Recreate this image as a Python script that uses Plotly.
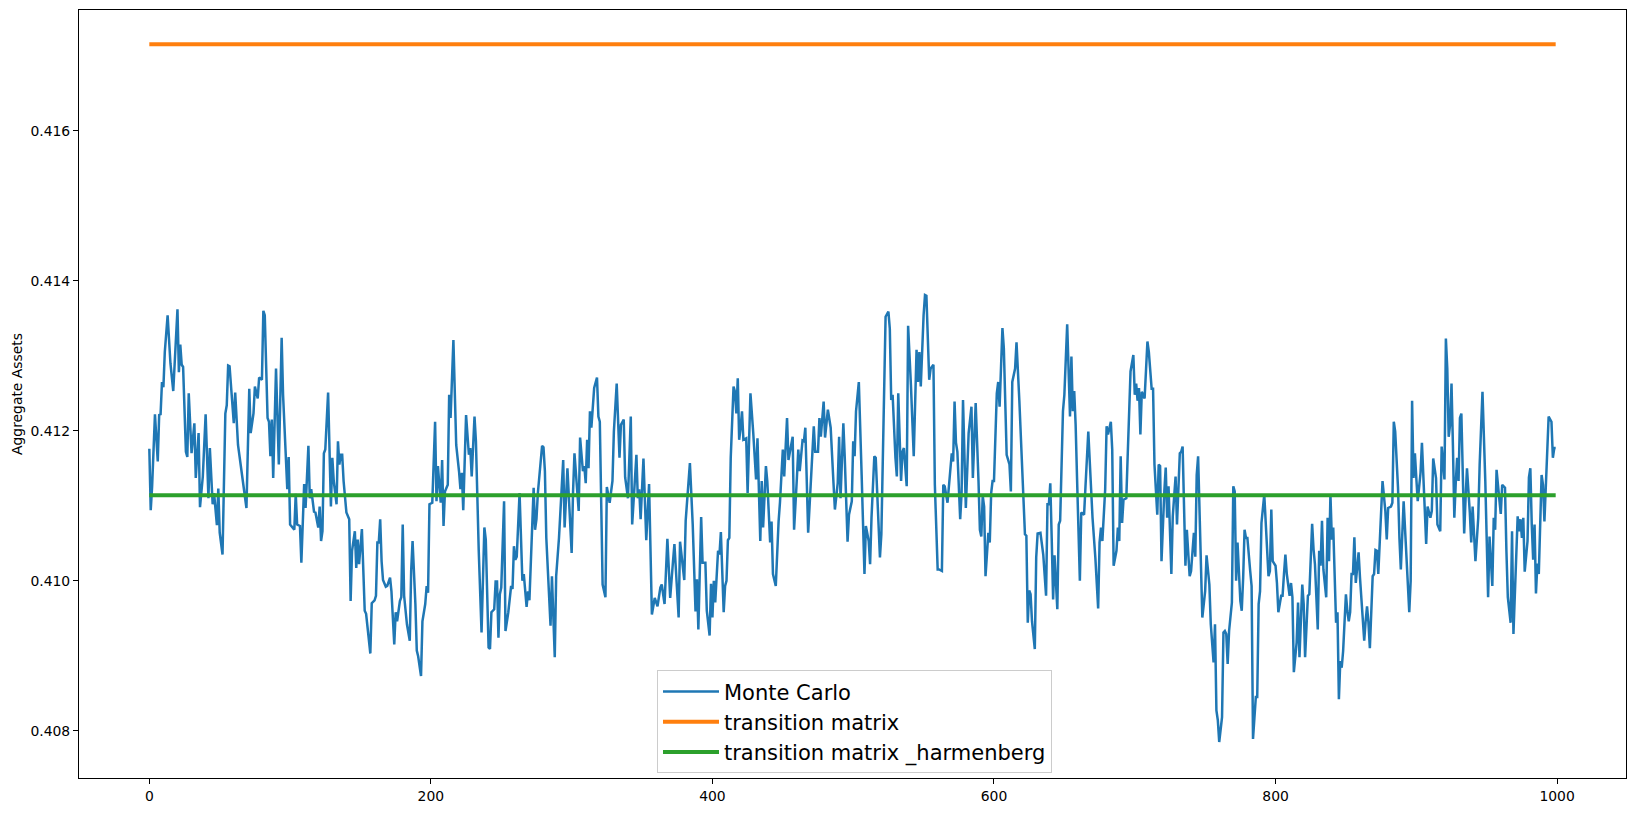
import plotly.graph_objects as go

# Monte Carlo aggregate assets, (period, value) readings
mc_block_0 = [(0,0.41176),(1,0.41094),(2,0.41126),(4,0.41222),(6,0.41159),(7,0.41221),(8,0.41222),(9,0.41265),(10,0.41258),(11,0.41305),(13,0.41354),(15,0.41290),(17,0.41253),(20,0.41362),(21,0.41278),(22,0.41315),(23,0.41288),(24,0.41285),(26,0.41172),(27,0.41165),(28,0.41250),(30,0.41170),(32,0.41210),(33,0.41137),(35,0.41197),(36,0.41098),(38,0.41139),(40,0.41222),(42,0.41110),(43,0.41177),(45,0.41102),(46,0.41117),(48,0.41074),(49,0.41123),(50,0.41064),(52,0.41035),(54,0.41223),(55,0.41234),(56,0.41287),(57,0.41286),(60,0.41210),(61,0.41251),(63,0.41181),(65,0.41155),(69,0.41097),(71,0.41256),(72,0.41197),(74,0.41223),(75,0.41259),(77,0.41243),(78,0.41271),(80,0.41268),(81,0.41360),(82,0.41354),(84,0.41217),(85,0.41212),(86,0.41166),(87,0.41215),(88,0.41137),(90,0.41283),(92,0.41155),(94,0.41324),(95,0.41248),(98,0.41122),(99,0.41165),
(100,0.41075),(103,0.41068),(104,0.41116),(105,0.41075),(107,0.41073),(108,0.41024),(110,0.41129),(111,0.41097),(113,0.41180),(114,0.41110),(115,0.41122),(117,0.41092),(118,0.41091),(120,0.41071),(121,0.41099),(122,0.41053),(123,0.41066),(124,0.41170),(125,0.41175),(127,0.41251),(129,0.41099),(130,0.41164),(131,0.41133),(133,0.41102),(134,0.41186),(135,0.41155),(136,0.41168),(137,0.41168),(138,0.41133),(140,0.41091),(142,0.41082),(143,0.40973),(144,0.41040),(146,0.41066),(147,0.41017),(148,0.41055),(149,0.41022),(151,0.41069),(153,0.40960),(154,0.40956),(157,0.40903),(158,0.40970),(160,0.40974),(161,0.40980),(162,0.41051),(163,0.41051),(164,0.41082),(165,0.41026),(166,0.41001),(168,0.40992),(169,0.40993),(171,0.41004),(172,0.40986),(174,0.40915),(175,0.40958),(176,0.40946),(178,0.40973),(179,0.40978),(180,0.41075),(181,0.40980),(183,0.40942),(185,0.40920),(186,0.41013),(187,0.41053),(189,0.40969),(190,0.40907),(191,0.40899),(193,0.40873),(194,0.40946),(196,0.40969),(197,0.40993),(198,0.40984),(199,0.41102)]

mc_block_1 = [(201,0.41104),(203,0.41212),(204,0.41106),(205,0.41153),(207,0.41104),(208,0.41161),(209,0.41073),(210,0.41119),(212,0.41128),(213,0.41248),(214,0.41217),(216,0.41321),(218,0.41181),(220,0.41146),(221,0.41122),(222,0.41144),(223,0.41094),(225,0.41221),(227,0.41168),(228,0.41177),(229,0.41139),(231,0.41219),(232,0.41186),(234,0.41040),(236,0.40931),(238,0.41071),(239,0.41055),(241,0.40911),(242,0.40909),(243,0.40958),(245,0.40962),(246,0.40999),(247,0.40999),(248,0.40924),(249,0.40982),(250,0.40991),(252,0.41106),(253,0.40933),(255,0.40958),(257,0.40993),(258,0.40989),(259,0.41046),(260,0.41028),(261,0.41032),(263,0.41117),(265,0.41000),(266,0.41009),(268,0.40965),(269,0.40986),(270,0.40974),(273,0.41124),(274,0.41068),(275,0.41082),(276,0.41117),(279,0.41180),(280,0.41178),(281,0.41146),(282,0.41057),(285,0.40940),(286,0.41006),(288,0.40898),(289,0.41006),(291,0.41057),(294,0.41161),(295,0.41071),(297,0.41150),(298,0.41108),(300,0.41037),(301,0.41119),
(302,0.41170),(305,0.41093),(306,0.41191),(308,0.41146),(309,0.41153),(310,0.41130),(311,0.41188),(312,0.41150),(313,0.41226),(314,0.41204),(316,0.41257),(318,0.41271),(319,0.41219),(320,0.41212),(322,0.40995),(324,0.40978),(325,0.41125),(327,0.41104),(328,0.41119),(329,0.41133),(330,0.41199),(332,0.41263),(334,0.41164),(335,0.41208),(337,0.41215),(338,0.41138),(340,0.41110),(342,0.41219),(343,0.41075),(344,0.41110),(346,0.41168),(347,0.41110),(348,0.41122),(349,0.41082),(351,0.41163),(353,0.41054),(355,0.41129),(357,0.40955),(359,0.40977),(361,0.40966),(363,0.40991),(364,0.40995),(366,0.40969),(368,0.41056),(370,0.40977),(372,0.41026),(373,0.41049),(376,0.40951),(377,0.41052),(380,0.41001),(381,0.41080),(384,0.41157),(386,0.41075),(388,0.40959),(389,0.41002),(390,0.40935),(392,0.41085),(393,0.41024),(395,0.41024),(396,0.40960),(398,0.40927),(399,0.40996)]

mc_block_2 = [(400,0.40951),(401,0.41000),(402,0.40971),(404,0.41040),(405,0.41035),(406,0.41065),(408,0.40958),(409,0.40993),(410,0.41000),(411,0.41054),(412,0.41057),(413,0.41164),(415,0.41259),(416,0.41252),(417,0.41223),(418,0.41270),(419,0.41188),(420,0.41204),(421,0.41226),(422,0.41188),(424,0.41190),(425,0.41117),(427,0.41250),(429,0.41197),(431,0.41135),(432,0.41190),(434,0.41053),(435,0.41133),(436,0.41071),(438,0.41153),(439,0.41132),(441,0.41051),(442,0.41079),(443,0.41009),(445,0.40993),(447,0.41079),(448,0.41105),(450,0.41175),(451,0.41139),(453,0.41217),(454,0.41161),(457,0.41192),(458,0.41068),(460,0.41137),(461,0.41175),(462,0.41146),(464,0.41187),(465,0.41186),(466,0.41204),(468,0.41064),(470,0.41133),(472,0.41206),(473,0.41172),(475,0.41172),(476,0.41217),(477,0.41192),(479,0.41239),(480,0.41191),(482,0.41228),(484,0.41204),(486,0.41130),(487,0.41095),(489,0.41130),(490,0.41192),(491,0.41110),(493,0.41210),(494,0.41164),(496,0.41052),(497,0.41088),(499,0.41106),
(500,0.41186),(501,0.41166),(502,0.41226),(504,0.41265),(506,0.41141),(508,0.41009),(509,0.41073),(511,0.41053),(512,0.41022),(513,0.41084),(515,0.41166),(516,0.41164),(518,0.41075),(519,0.41031),(520,0.41062),(522,0.41248),(523,0.41352),(525,0.41359),(526,0.41336),(527,0.41241),(528,0.41248),(530,0.41164),(531,0.41139),(532,0.41250),(534,0.41133),(535,0.41172),(536,0.41177),(538,0.41126),(539,0.41340),(541,0.41261),(542,0.41212),(543,0.41166),(545,0.41308),(546,0.41265),(547,0.41305),(548,0.41259),(550,0.41354),(551,0.41381),(552,0.41380),(554,0.41268),(555,0.41283),(557,0.41288),(558,0.41128),(560,0.41015),(561,0.41015),(563,0.41013),(564,0.41128),(565,0.41126),(567,0.41104),(568,0.41128),(569,0.41141),(570,0.41170),(571,0.41159),(572,0.41239),(573,0.41184),(574,0.41172),(576,0.41082),(577,0.41117),(578,0.41241),(580,0.41097),(582,0.41197),(584,0.41232),(585,0.41137),(587,0.41237),(589,0.41133),(590,0.41068),(591,0.41059),(592,0.41113),(593,0.41099),(594,0.41006),(596,0.41064),(597,0.41051),(598,0.41117),(599,0.41133)]

mc_block_3 = [(600,0.41133),(602,0.41250),(603,0.41265),(604,0.41232),(606,0.41337),(607,0.41310),(609,0.41168),(611,0.41155),(612,0.41119),(613,0.41265),(615,0.41283),(616,0.41318),(618,0.41241),(620,0.41153),(622,0.41062),(623,0.41060),(624,0.40944),(625,0.40987),(626,0.40982),(627,0.40946),(629,0.40909),(630,0.41031),(631,0.41063),(633,0.41064),(635,0.41035),(637,0.40980),(638,0.41102),(639,0.41102),(640,0.41130),(641,0.41057),(642,0.40975),(643,0.41034),(645,0.40962),(646,0.41075),(647,0.41080),(649,0.41226),(650,0.41248),(652,0.41342),(654,0.41219),(655,0.41299),(656,0.41226),(657,0.41253),(658,0.41208),(659,0.41137),(661,0.41000),(662,0.41091),(664,0.41088),(665,0.41126),(667,0.41199),(669,0.41122),(670,0.41084),(672,0.41031),(674,0.40963),(675,0.41051),(676,0.41071),(677,0.41053),(678,0.41088),(679,0.41122),(680,0.41206),(681,0.41195),(683,0.41212),(684,0.41175),(685,0.41020),(687,0.41040),(688,0.41071),(689,0.41053),(690,0.41166),(691,0.41077),(692,0.41108),(694,0.41110),(695,0.41168),(697,0.41279),(699,0.41301),
(700,0.41248),(701,0.41263),(702,0.41240),(703,0.41257),(704,0.41195),(705,0.41252),(707,0.41243),(708,0.41281),(709,0.41319),(710,0.41305),(712,0.41256),(713,0.41256),(714,0.41155),(716,0.41088),(717,0.41155),(718,0.41153),(719,0.41026),(721,0.41119),(722,0.41151),(723,0.41084),(724,0.41126),(726,0.41009),(727,0.41086),(729,0.41139),(730,0.41075),(732,0.41170),(733,0.41172),(734,0.41179),(736,0.41020),(737,0.41068),(739,0.41006),(740,0.41013),(742,0.41064),(743,0.41032),(744,0.41141),(745,0.41166),(747,0.41044),(748,0.40951),(750,0.40986),(751,0.41034),(753,0.40995),(754,0.40942),(756,0.40891),(757,0.40942),(758,0.40827),(759,0.40814),(760,0.40785),(762,0.40818),(763,0.40931),(764,0.40933),(765,0.40929),(766,0.40889),(767,0.40933),(769,0.40971),(770,0.41126),(771,0.41119),(772,0.41000),(773,0.41051),(775,0.40973),(776,0.40960),(777,0.41004),(778,0.41068),(779,0.41057),(780,0.41057),(782,0.41013),(783,0.40993),(784,0.40789),(786,0.40845),(787,0.40845),(788,0.40969),(789,0.40986),(790,0.41077),(792,0.41115),(793,0.41084),(795,0.41006),(796,0.41013),(797,0.41095)]

mc_block_4 = [(798,0.41026),(800,0.41020),(801,0.40997),(802,0.40958),(804,0.40980),(805,0.40980),(806,0.41009),(807,0.41035),(808,0.41009),(810,0.40980),(811,0.40997),(812,0.40978),(813,0.40878),(815,0.40918),(816,0.40971),(817,0.40898),(819,0.40995),(820,0.40969),(821,0.40898),(822,0.40951),(823,0.40980),(824,0.40982),(826,0.41076),(827,0.41042),(828,0.41022),(830,0.40935),(831,0.41040),(832,0.41020),(833,0.41080),(834,0.41015),(836,0.40978),(837,0.41084),(838,0.41026),(839,0.41115),(840,0.41055),(841,0.41071),(843,0.40944),(844,0.40958),(845,0.40842),(846,0.40893),(847,0.40884),(848,0.40906),(850,0.40982),(851,0.40960),(852,0.40946),(853,0.40958),(854,0.41009),(855,0.41009),(856,0.41058),(857,0.40997),(859,0.41038),(860,0.41004),(863,0.40920),(864,0.40946),(865,0.40966),(866,0.40944),(867,0.40910),(869,0.41006),(870,0.41009),(871,0.41041),(872,0.41040),(873,0.41009),(875,0.41088),(876,0.41133),(878,0.41093),(879,0.41055),(880,0.41097),(882,0.41099),(883,0.41104),(884,0.41212),(885,0.41199),(887,0.41124),(888,0.41057),(889,0.41015),(891,0.41106),(892,0.41068),(893,0.41032),(895,0.40958),(896,0.41000),(897,0.41240),(898,0.41137),(899,0.41170),(900,0.41137),(901,0.41106),
(903,0.41144),(904,0.41184),(906,0.41095),(907,0.41049),(908,0.41099),(910,0.41084),(911,0.41093),(912,0.41163),(914,0.41137),(915,0.41075),(917,0.41066),(918,0.41179),(920,0.41135),(921,0.41323),(922,0.41283),(923,0.41192),(924,0.41208),(925,0.41263),(926,0.41181),(927,0.41084),(928,0.41130),(929,0.41164),(930,0.41133),(931,0.41217),(932,0.41223),(934,0.41063),(935,0.41110),(936,0.41150),(938,0.41091),(939,0.41051),(940,0.41099),(942,0.41026),(944,0.41084),(945,0.41155),(947,0.41252),(949,0.41133),(951,0.40978),(952,0.41059),(954,0.40993),(955,0.41084),(956,0.41068),(957,0.41148),(959,0.41108),(960,0.41089),(961,0.41128),(963,0.41124),(964,0.41040),(965,0.40978),(967,0.40944),(968,0.41066),(969,0.40929),(971,0.41031),(972,0.41086),(973,0.41066),(974,0.41082),(975,0.41057),(976,0.41084),(977,0.41012),(979,0.41053),(980,0.41138),(981,0.41150),(982,0.41075),(983,0.41028),(984,0.41075),(985,0.40983),(986,0.41023),(987,0.41009),(989,0.41141),(990,0.41128),(991,0.41079),(993,0.41164),(994,0.41219),(996,0.41212),(997,0.41164),(998,0.41177),(999,0.41177)]

transition_matrix_value = 0.417153
harmenberg_value = 0.41114
period_span = [0, 999]

x_ticks = [0, 200, 400, 600, 800, 1000]
y_ticks = [0.408, 0.410, 0.412, 0.414, 0.416]

series_names = ["Monte Carlo", "transition matrix", "transition matrix _harmenberg"]
colors = ["#1f77b4", "#ff7f0e", "#2ca02c"]

mc = mc_block_0 + mc_block_1 + mc_block_2 + mc_block_3 + mc_block_4
mc_steps = [p[0] for p in mc]
mc_values = [p[1] for p in mc]

FONT = "DejaVu Sans"

fig = go.Figure()
fig.add_trace(go.Scatter(x=mc_steps, y=mc_values, mode="lines", name=series_names[0],
                         line=dict(color=colors[0], width=2.5)))
fig.add_trace(go.Scatter(x=period_span, y=[transition_matrix_value] * 2, mode="lines",
                         name=series_names[1], line=dict(color=colors[1], width=4)))
fig.add_trace(go.Scatter(x=period_span, y=[harmenberg_value] * 2, mode="lines",
                         name=series_names[2], line=dict(color=colors[2], width=4)))

W, H = 1638, 813
ml, mr, mt, mb = 79, 12, 9, 34
pw = W - ml - mr
ph = H - mt - mb

axis_common = dict(showline=True, linecolor="black", linewidth=1.1, mirror=True,
                   showgrid=False, zeroline=False, ticks="outside", ticklen=5,
                   tickwidth=1.1, tickcolor="black",
                   tickfont=dict(family=FONT, size=13.9, color="black"))

fig.update_layout(
    width=W, height=H, autosize=False,
    margin=dict(l=ml, r=mr, t=mt, b=mb),
    paper_bgcolor="white", plot_bgcolor="white",
    font=dict(family=FONT, color="black"),
    xaxis=dict(range=[-49.95, 1048.95], tickvals=x_ticks, **axis_common),
    yaxis=dict(range=[0.40737, 0.41761], tickvals=y_ticks, tickformat=".3f", **axis_common),
    legend=dict(x=(657 - ml) / pw, y=(H - mb - 671) / ph, xanchor="left", yanchor="top",
                bgcolor="rgba(255,255,255,0.8)", bordercolor="#cccccc", borderwidth=1,
                font=dict(family=FONT, size=21, color="black"), tracegroupgap=0,
                itemwidth=56),
    showlegend=True,
    annotations=[dict(text="Aggregate Assets", xref="paper", yref="paper",
                      x=(17 - ml) / pw, y=0.5, xanchor="center", yanchor="middle",
                      textangle=-90, showarrow=False,
                      font=dict(family=FONT, size=13.9, color="black"))],
)

fig.write_html("out.html", config={"displayModeBar": False},
               post_script="document.body.style.margin='0';document.body.style.padding='0';")
